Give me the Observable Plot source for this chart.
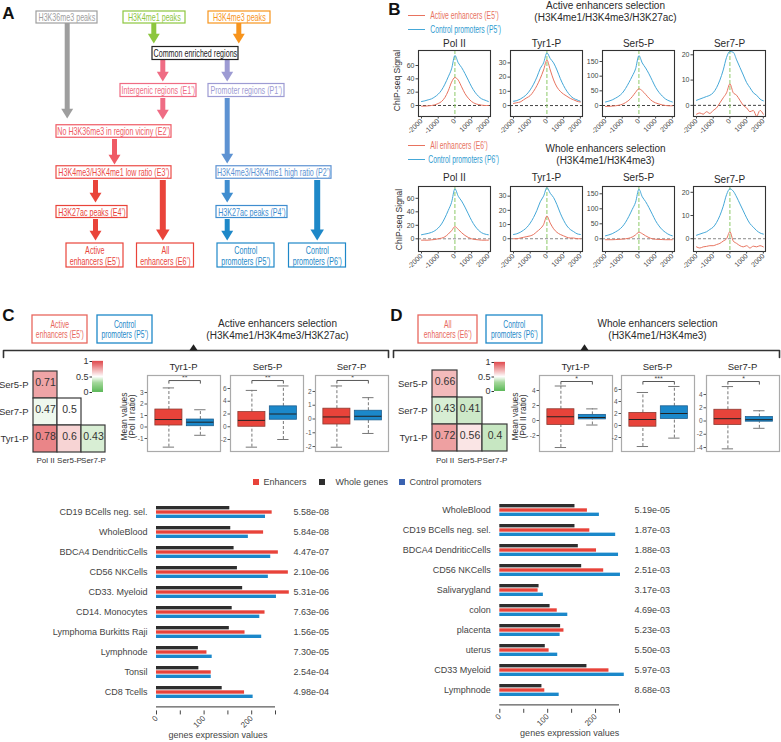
<!DOCTYPE html>
<html>
<head>
<meta charset="utf-8">
<script src="https://cdn.jsdelivr.net/npm/d3@7"></script>
<script src="https://cdn.jsdelivr.net/npm/@observablehq/plot@0.6"></script>
<style>
html,body{margin:0;padding:0;background:#fff;}
#fig{position:relative;width:781px;height:742px;overflow:hidden;background:#fff;}
</style>
</head>
<body>
<div id="fig"></div>
<script>
// ===================== DATA =====================
// --- B: ChIP-seq profiles (position relative to region centre, bp) ---
const profileX = [-2000,-1800,-1600,-1400,-1200,-1000,-800,-600,-400,-200,0,200,400,600,800,1000,1200,1400,1600,1800,2000];
const profileXTicks = [-2000,-1000,0,1000,2000];
const profileTitles = ["Pol II","Tyr1-P","Ser5-P","Ser7-P"];
const polIIYTicks = [0,20,40,60];
const tyr1YTicks = [0,10,20,30];
const ser5YTicks = [0,50,100,150];
const ser7YTicks = [0,10,20];
// Active enhancers selection: E5' (red) vs P5' (blue)
const polII_E5 = [-1,-1,-0.5,0,1,3,6,12,22,35,42,38,28,18,11,6,3,1.5,0.5,0,0];
const polII_P5 = [6,7,8.5,10,13,17,23,32,43,55,75,64,57,48,38,28,20,14,10,8,6];
const tyr1_E5 = [1.5,2,2.5,4,5.5,7,10,14,19,25,32,25,18,13,10,8,6.5,5,4,3,2.5];
const tyr1_P5 = [3,3.5,4.5,6,8,11,15,20,26,30,37,33,30,25,19,14,10,7,5,4,3];
const ser5_E5 = [-3,-3,-2,-1,1,4,10,18,30,45,57,50,38,25,15,9,5,2,0,-1,-1];
const ser5_P5 = [12,15,19,25,32,42,58,78,100,125,170,145,128,108,85,62,45,32,22,16,12];
const ser7_E5 = [-3.5,-3,-3.5,-2.5,-3.2,-2,-1,1,3,5,8.5,5,4,2,0,-1,-2.5,-2,-4.3,-2,-3.5];
const ser7_P5 = [2,2.5,3,3.5,4,5,7,10,14,19,21.3,21,18,15,12,9,7,5,4,2.5,1.8];
// Whole enhancers selection: E6' (red) vs P6' (blue)
const polII_E6 = [-2,-2,-2,-1.5,-1,0,1,3,7,12,18,14,9,5,2,0,-1,-1.5,-2,-2,-2];
const polII_P6 = [6,7,8,9.5,12,16,22,31,42,54,74,63,56,47,37,27,19,13,9,7,6];
const tyr1_E6 = [0,0,0.5,1,1.5,2,3,5,7,10,16,11,7,4.5,3,2,1,0.5,0.5,0,0];
const tyr1_P6 = [3,3.5,4.5,6,8,11,15,20,26,30,36,32,29,24,18,13,9,6.5,5,3.5,3];
const ser5_E6 = [-3,-3,-3,-2.5,-2,-1,0,2,6,13,22,17,10,4,0,-1.5,-2,-2.5,-3,-3,-3];
const ser5_P6 = [10,13,17,23,30,40,55,75,98,122,165,140,124,104,82,60,43,30,21,14,10];
const ser7_E6 = [-3.5,-4,-3.5,-3.3,-3,-3,-2.5,-2,-1,0,3,-1,-2,-3,-3.5,-3,-4,-3.2,-3.5,-3,-3.5];
const ser7_P6 = [1.5,2,2.5,3,4,5,7,10,14,19,21.5,20.5,18,15,12,9,6.5,5,3.5,2.5,2];

// --- titles / legends ---
const activeSelTitle = ["Active enhancers selection","(H3K4me1/H3K4me3/H3K27ac)"];
const wholeSelTitle = ["Whole enhancers selection","(H3K4me1/H3K4me3)"];
const legendActive = ["Active enhancers (E5’)","Control promoters (P5’)"];
const legendWhole = ["All enhancers (E6’)","Control promoters (P6’)"];
const boxLegendActive = ["Active\nenhancers (E5’)","Control\npromoters (P5’)"];
const boxLegendWhole = ["All\nenhancers (E6’)","Control\npromoters (P6’)"];
const chipLabel = "ChIP-seq Signal";
const meanLabel = "Mean values\n(Pol II ratio)";

// --- A: flowchart labels ---
const flowLabels = ["H3K36me3 peaks","H3K4me1 peaks","H3K4me3 peaks","Common enriched regions",
  "Intergenic regions (E1’)","Promoter regions (P1’)","No H3K36me3 in region viciny (E2’)",
  "H3K4me3/H3K4me1 low ratio (E3’)","H3K4me3/H3K4me1 high ratio (P2’)","H3K27ac peaks (E4’)",
  "H3K27ac peaks (P4’)","Active\nenhancers (E5’)","All\nenhancers (E6’)","Control\npromoters (P5’)","Control\npromoters (P6’)"];

// --- C/D: correlation heat maps ---
const hmRows = ["Ser5-P","Ser7-P","Tyr1-P"];
const hmCols = ["Pol II","Ser5-P","Ser7-P"];
const hmPairs = [["Ser5-P","Pol II"],["Ser7-P","Pol II"],["Ser7-P","Ser5-P"],["Tyr1-P","Pol II"],["Tyr1-P","Ser5-P"],["Tyr1-P","Ser7-P"]];
const corrActive = [0.71,0.47,0.5,0.78,0.6,0.43];
const corrWhole = [0.66,0.43,0.41,0.72,0.56,0.4];
const corrLegendTicks = [0,0.5,1];

// --- C/D: box plots [lower whisker, Q1, median, Q3, upper whisker] ---
const boxTitles = ["Tyr1-P","Ser5-P","Ser7-P"];
const boxActiveEnh = [[-1.75,0.13,0.65,1.52,3.4],[-3.2,0,1,2.3,5.7],[-2.05,-0.4,0.15,0.75,2.4]];
const boxActiveProm = [[-0.72,0.07,0.42,0.65,1.5],[-2,1.1,2,3.2,6.4],[-1.05,-0.1,0.2,0.6,1.55]];
const boxActiveSig = ["**","**","*"];
const boxActiveSigY = [4.04,7.25,2.8];
const boxWholeEnh = [[-3.6,-0.6,0.5,1.5,4.6],[-3.5,-0.2,1,2.1,5.5],[-4.2,-0.6,0.35,1.7,5.2]];
const boxWholeProm = [[-0.6,0.15,0.4,0.75,1.55],[-2.1,1.1,2,3.2,6.5],[-1.1,-0.1,0.2,0.6,1.55]];
const boxWholeSig = ["*","***","*"];
const boxWholeSigY = [5.2,7.33,5.96];
const boxTicksActive = [[-1,0,1,2,3],[-2,0,2,4,6],[-2,-1,0,1,2]];
const boxTicksWhole = [[-2,0,2,4],[-2,0,2,4,6],[-4,-2,0,2,4]];

// --- C/D: expression bar charts ---
const barSeries = ["Enhancers","Whole genes","Control promoters"];
const barXTicks = [0,50,100,150,200,250];
const barXLabel = "genes expression values";
const tissuesActive = ["CD19 BCells neg. sel.","WholeBlood","BDCA4 DendriticCells","CD56 NKCells","CD33. Myeloid","CD14. Monocytes","Lymphoma Burkitts Raji","Lymphnode","Tonsil","CD8 Tcells"];
const pActive = ["5.58e-08","5.84e-08","4.47e-07","2.10e-06","5.31e-06","7.63e-06","1.56e-05","7.30e-05","2.54e-04","4.98e-04"];
const enhActive = [243,225,256,277,279,228,186,106,115,185];
const wholeActive = [154,156,163,170,181,159,153,88,89,138];
const promActive = [229,193,240,235,252,217,221,117,115,203];
const tissuesWhole = ["WholeBlood","CD19 BCells neg. sel.","BDCA4 DendriticCells","CD56 NKCells","Salivarygland","colon","placenta","uterus","CD33 Myeloid","Lymphnode"];
const pWhole = ["5.19e-05","1.87e-03","1.88e-03","2.51e-03","3.17e-03","4.69e-03","5.23e-03","5.50e-03","5.97e-03","8.68e-03"];
const enhWhole = [183,188,202,217,80,120,134,103,228,94];
const wholeWhole = [157,157,164,171,82,105,127,95,182,88];
const promWhole = [208,242,248,252,91,142,126,121,260,124];

// ===================== STYLE / LAYOUT =====================
const FONT = '"Liberation Sans", Arial, Helvetica, sans-serif';
const GRAY="#9e9e9e", GREEN="#8dc63f", ORANGE="#f7941d", PINK="#ef6c84", PURPLE="#9d9bd3",
      E2C="#ef5a64", E3C="#ec4b47", RED="#e9443a", P2C="#5d92d2", P4C="#3f8dcf", BLUE="#1e88c8";
const LINE_RED="#e8735f", LINE_BLUE="#45a8d8";
const BAR_RED="#e8433a", BAR_BLACK="#2e2e2e", BAR_BLUE="#1b88ca";
const corrDomain=[0,0.3,0.5,1], corrRange=["#3aa935","#8fcf84","#ffffff","#d9262a"];

const fig = document.getElementById("fig");
function place(svg, left, top, extra) {
  svg.style.position = "absolute";
  svg.style.left = left + "px";
  svg.style.top = top + "px";
  if (extra) Object.assign(svg.style, extra);
  fig.appendChild(svg);
}
function st(size, color) {
  return {background:"transparent", overflow:"visible", maxWidth:"none", fontFamily:FONT, fontSize:size+"px", color:color||"#333"};
}
const triDown = {draw(ctx, size){const s=Math.sqrt(size/Math.PI);ctx.moveTo(-1.3*s,-0.9*s);ctx.lineTo(1.3*s,-0.9*s);ctx.lineTo(0,1.2*s);ctx.closePath();}};
const triUp = {draw(ctx, size){const s=Math.sqrt(size/Math.PI);ctx.moveTo(-s,0);ctx.lineTo(s,0);ctx.lineTo(0,-1.5*s);ctx.closePath();}};

// flowchart layout: centre x, centre y, width, height, colour
const flowBoxes = [
  [66.5,17,61,12,GRAY],[154,17,62,12,GREEN],[239,17,62,12,ORANGE],[195,53,86,13,"#222"],
  [158,90,76,13,PINK],[246,90,76,13,PURPLE],[113.5,131,115,12.5,E2C],[113.5,172,115,12.5,E3C],
  [273.5,172,115,12.5,P2C],[91.5,211.5,71,12,RED],[251.5,211.5,71,12,P4C],
  [94.5,255,57,24,RED],[165,255,57,24,RED],[245.5,255,57,24,BLUE],[317,255,57,24,BLUE]];
const flow = flowLabels.map((t,i)=>({t, cx:flowBoxes[i][0], cy:flowBoxes[i][1], w:flowBoxes[i][2], h:flowBoxes[i][3], c:flowBoxes[i][4]}));
// arrows: x, start y, tip y, colour, big
const arrows = [
  [66.7,23,118,GRAY,0],[153.3,23,43,GREEN,0],[238.3,23,43,ORANGE,0],
  [162.3,60,81,PINK,0],[226.7,60,81,PURPLE,0],[162.3,98,119,PINK,0],
  [226.7,98,163,P2C,0],[114,139,164,E2C,0],
  [95,180,202,RED,0],[162.3,180,240,RED,1],[226.7,180,202,P4C,0],[316.7,180,240,BLUE,1],
  [95,219,240,RED,0],[226.7,219,240,BLUE,0]].map(([x,y1,y2,c,big])=>({x,y1,y2,c,big}));

// ===================== BACKGROUND DECOR LAYER =====================
{
  const rA = 4.6, rB = 5.2;
  const letters = [{t:"A",x:8,y:13},{t:"B",x:394,y:9},{t:"C",x:8,y:315},{t:"D",x:396,y:315}];
  const colCenters = [454,546,638,729];
  const texts = [
    {t:activeSelTitle[0],x:605,y:5,s:10},{t:activeSelTitle[1],x:605,y:17,s:10},
    {t:wholeSelTitle[0],x:605,y:148,s:10},{t:wholeSelTitle[1],x:605,y:160,s:10},
    ...profileTitles.map((t,i)=>({t,x:colCenters[i],y:43,s:10})),
    ...profileTitles.map((t,i)=>({t,x:colCenters[i],y:i===3?179:177,s:10})),
    {t:activeSelTitle[0],x:277,y:323,s:10},{t:activeSelTitle[1],x:277,y:335,s:10},
    {t:wholeSelTitle[0],x:657,y:323,s:10},{t:wholeSelTitle[1],x:657,y:335,s:10},
    ...boxTitles.map((t,i)=>({t,x:[183,267,351][i],y:366,s:9.5})),
    ...boxTitles.map((t,i)=>({t,x:[575,657,742][i],y:366,s:9.5}))
  ];
  const rotTexts = [
    {t:chipLabel,x:397,y:80,s:8},{t:chipLabel,x:399,y:219,s:8},
    {t:meanLabel,x:128,y:416,s:8.5},{t:meanLabel,x:519,y:416,s:8.5}
  ];
  const legLines = [
    {y:15,x1:408,x2:425,c:LINE_RED},{y:29,x1:408,x2:425,c:LINE_BLUE},
    {y:145,x1:408,x2:425,c:LINE_RED},{y:159,x1:408,x2:425,c:LINE_BLUE}];
  const legBoxes = [
    {x1:32,x2:87,y1:315,y2:343,c:"#e8675e"},{x1:97,x2:152,y1:315,y2:343,c:BLUE},
    {x1:418,x2:477,y1:315,y2:343,c:"#e8675e"},{x1:486,x2:542,y1:315,y2:343,c:BLUE}];
  const brackets = [
    {z:"C",x:3,y:357},{z:"C",x:3,y:350},{z:"C",x:388,y:350},{z:"C",x:388,y:357},
    {z:"D",x:393,y:357},{z:"D",x:393,y:350},{z:"D",x:779,y:350},{z:"D",x:779,y:357}];
  const bracketTips = [{x:193,y:350},{x:584,y:350}];
  const barLegSq = [
    {x1:253,x2:259,y1:479,y2:485,c:BAR_RED},{x1:319,x2:325,y1:479,y2:485,c:BAR_BLACK},{x1:399,x2:405,y1:479,y2:485,c:"#3a62b0"}];
  const barLegText = barSeries.map((t,i)=>({t,x:[263,335,409][i],y:482}));

  const marks = [];
  for (const big of [0,1]) {
    const r = big ? rB : rA;
    const a = arrows.filter(d=>d.big===big);
    marks.push(Plot.ruleX(a, {x:"x", y1:"y1", y2:d=>d.y2-2.0*r+1, stroke:"c", strokeWidth: big?6:5}));
    marks.push(Plot.dot(a, {x:"x", y:d=>d.y2-1.2*r, symbol:triDown, r, fill:"c", stroke:null}));
  }
  marks.push(
    Plot.rect(flow, {x1:d=>d.cx-d.w/2, x2:d=>d.cx+d.w/2, y1:d=>d.cy-d.h/2, y2:d=>d.cy+d.h/2, fill:"white", stroke:"c", strokeWidth:1.2}),
    Plot.rect(legBoxes, {x1:"x1",x2:"x2",y1:"y1",y2:"y2",fill:"white",stroke:"c",strokeWidth:1.3}),
    Plot.ruleY(legLines, {y:"y", x1:"x1", x2:"x2", stroke:"c", strokeWidth:1}),
    Plot.line(brackets, {x:"x", y:"y", z:"z", stroke:"#333", strokeWidth:1.6}),
    Plot.dot(bracketTips, {x:"x", y:"y", symbol:triUp, r:4.2, fill:"#222", stroke:null}),
    Plot.rect(barLegSq, {x1:"x1",x2:"x2",y1:"y1",y2:"y2",fill:"c"}),
    Plot.text(barLegText, {x:"x", y:"y", text:"t", textAnchor:"start", fontSize:9, fill:"#444"}),
    Plot.text(letters, {x:"x", y:"y", text:"t", fontSize:17, fontWeight:"bold", fill:"#111"}),
    Plot.text(texts, {x:"x", y:"y", text:"t", fontSize:d=>d.s, fill:"#2a2a2a"}),
    Plot.text(rotTexts, {x:"x", y:"y", text:"t", fontSize:8.5, rotate:-90, lineHeight:0.95, fill:"#333"})
  );
  const svg = Plot.plot({
    width:781, height:742, margin:0,
    x:{domain:[0,781], range:[0,781], axis:null},
    y:{domain:[0,742], range:[0,742], axis:null},
    style: st(10),
    marks
  });
  place(svg, 0, 0);
}

// ===================== B: PROFILE PLOTS =====================
const profileCols = [418,510,602,693];
const profileRows = [
  {top:50, h:66, zero:"#444", doms:[[-16.5,82.5],[-7.7,38.7],[-37.5,187.5],[-4.4,21.7]],
   series:[[polII_E5,polII_P5],[tyr1_E5,tyr1_P5],[ser5_E5,ser5_P5],[ser7_E5,ser7_P5]]},
  {top:186, h:65, zero:"#8a8a8a", doms:[[-18.8,77.5],[-9,36.8],[-42.3,174.3],[-5.5,22.5]],
   series:[[polII_E6,polII_P6],[tyr1_E6,tyr1_P6],[ser5_E6,ser5_P6],[ser7_E6,ser7_P6]]}
];
const profileYTicks = [polIIYTicks,tyr1YTicks,ser5YTicks,ser7YTicks];
for (const row of profileRows) {
  row.series.forEach(([enh, prom], j) => {
    const ml=24, mr=4, mt=2, mb=26, w=72;
    const rows = profileX.map((x,i)=>({x, e:enh[i], p:prom[i]}));
    const svg = Plot.plot({
      width:w+ml+mr, height:row.h+mt+mb, marginLeft:ml, marginRight:mr, marginTop:mt, marginBottom:mb,
      x:{domain:[-2180,2130]}, y:{domain:row.doms[j]},
      style: st(7, "#444"),
      marks:[
        Plot.ruleY([0], {stroke:row.zero, strokeDasharray:"3,2", strokeWidth:1}),
        Plot.ruleX([0], {stroke:"#8dc968", strokeDasharray:"4,2", strokeWidth:1}),
        Plot.line(rows, {x:"x", y:"p", stroke:LINE_BLUE, strokeWidth:1, curve:"monotone-x"}),
        Plot.line(rows, {x:"x", y:"e", stroke:LINE_RED, strokeWidth:1, curve:"monotone-x"}),
        Plot.frame({stroke:"#333", strokeWidth:1.1}),
        Plot.axisY({ticks:profileYTicks[j], tickFormat:d=>String(d), tickSize:2.5, tickPadding:1.5, label:null}),
        Plot.axisX({ticks:profileXTicks, tickFormat:d=>String(d), tickSize:2.5, tickPadding:1, tickRotate:-45, label:null})
      ]
    });
    place(svg, profileCols[j]-ml, row.top-mt);
  });
}

// ===================== C/D: HEAT MAPS =====================
function heatmap(left, top, w, h, vals) {
  const ml=32, mr=9, mt=10, mb=18;
  const cells = hmPairs.map(([r,c],i)=>({r, c, v:vals[i]}));
  const svg = Plot.plot({
    width:ml+w+mr, height:mt+h+mb, marginLeft:ml, marginRight:mr, marginTop:mt, marginBottom:mb,
    x:{domain:hmCols, padding:0}, y:{domain:hmRows, padding:0},
    color:{type:"linear", domain:corrDomain, range:corrRange},
    style: st(9.5, "#333"),
    marks:[
      Plot.cell(cells, {x:"c", y:"r", fill:"v", stroke:"#3a3a3a", strokeWidth:1.2, inset:0}),
      Plot.text(cells, {x:"c", y:"r", text:d=>String(d.v), fontSize:10.5, dy:-2, fill:"#333"}),
      Plot.axisX({tickSize:0, tickPadding:5, label:null, fontSize:8}),
      Plot.axisY({tickSize:0, tickPadding:4, label:null})
    ]
  });
  place(svg, left-ml, top-mt);
}
heatmap(32, 370, 74, 82, corrActive);
heatmap(431, 369, 77, 83, corrWhole);

function corrBar(left, top, h) {
  const ml=20, mr=2, mt=4, mb=4, n=60;
  const steps = d3.range(n);
  const svg = Plot.plot({
    width:ml+11+mr, height:mt+h+mb, marginLeft:ml, marginRight:mr, marginTop:mt, marginBottom:mb,
    x:{domain:[0,1], axis:null}, y:{domain:[0,1]},
    color:{type:"linear", domain:corrDomain, range:corrRange},
    style: st(9, "#333"),
    marks:[
      Plot.rect(steps, {x1:0, x2:1, y1:i=>i/n, y2:i=>(i+1)/n+0.004, fill:i=>(i+0.5)/n}),
      Plot.axisY({ticks:corrLegendTicks, tickFormat:d=>String(d), tickSize:2.5, tickPadding:1.5, label:null})
    ]
  });
  place(svg, left-ml, top-mt);
}
corrBar(92, 361, 31);
corrBar(494, 362, 29);

// ===================== C/D: BOX PLOTS =====================
function boxplot(left, top, ydom, yticks, enh, prom, sig, sigY) {
  const ml=16, mr=2, mt=1, mb=2, w=73, h=76;
  const boxes = [{pos:1, s:enh, fill:BAR_RED, stroke:"#8e3a31"},{pos:2, s:prom, fill:BAR_BLUE, stroke:"#1d5f8f"}];
  const tk = (ydom[1]-ydom[0])*0.035;
  const br = [{x:1,y:sigY-tk},{x:1,y:sigY},{x:2,y:sigY},{x:2,y:sigY-tk}];
  const svg = Plot.plot({
    width:ml+w+mr, height:mt+h+mb, marginLeft:ml, marginRight:mr, marginTop:mt, marginBottom:mb,
    x:{domain:[0.32,2.64], axis:null}, y:{domain:ydom},
    style: st(6.5, "#555"),
    marks:[
      Plot.ruleX(boxes, {x:"pos", y1:d=>d.s[0], y2:d=>d.s[1], stroke:"#777", strokeDasharray:"3,2"}),
      Plot.ruleX(boxes, {x:"pos", y1:d=>d.s[3], y2:d=>d.s[4], stroke:"#777", strokeDasharray:"3,2"}),
      Plot.ruleY(boxes, {y:d=>d.s[0], x1:d=>d.pos-0.18, x2:d=>d.pos+0.18, stroke:"#777"}),
      Plot.ruleY(boxes, {y:d=>d.s[4], x1:d=>d.pos-0.18, x2:d=>d.pos+0.18, stroke:"#777"}),
      Plot.rect(boxes, {x1:d=>d.pos-0.43, x2:d=>d.pos+0.43, y1:d=>d.s[1], y2:d=>d.s[3], fill:"fill", stroke:"stroke", strokeWidth:0.8}),
      Plot.ruleY(boxes, {y:d=>d.s[2], x1:d=>d.pos-0.43, x2:d=>d.pos+0.43, stroke:"#222", strokeWidth:1}),
      Plot.line(br, {x:"x", y:"y", stroke:"#444", strokeWidth:0.9}),
      Plot.text([{t:sig}], {x:()=>1.5, y:()=>sigY, text:"t", dy:-3, fontSize:7, fill:"#444"}),
      Plot.frame({stroke:"#aaa", strokeWidth:1.2}),
      Plot.axisY({ticks:yticks, tickFormat:d=>String(d), tickSize:2.5, tickPadding:1.5, label:null})
    ]
  });
  place(svg, left-ml, top-mt);
}
const boxColsC = [147,230,315], boxColsD = [539,621,706];
const boxDomC = [[-2.13,4.48],[-3.88,8.04],[-2.36,3.16]];
const boxDomD = [[-4.13,6],[-4.33,8.33],[-4.6,6.87]];
for (let i=0;i<3;i++) {
  boxplot(boxColsC[i], 375, boxDomC[i], boxTicksActive[i], boxActiveEnh[i], boxActiveProm[i], boxActiveSig[i], boxActiveSigY[i]);
  boxplot(boxColsD[i], 375, boxDomD[i], boxTicksWhole[i], boxWholeEnh[i], boxWholeProm[i], boxWholeSig[i], boxWholeSigY[i]);
}

// ===================== C/D: BAR CHARTS =====================
function barChart(left, width, ml, mr, mt, tissues, pvals, enh, whole, prom, pPad, labelDx) {
  const H = 282, n = tissues.length, pad = 0.38, step = 20.86, R = step*(n+pad);
  const mb = H - mt - R, bw = step*(1-pad), third = bw/3;
  const rows = tissues.map((t,i)=>({t, e:enh[i], w:whole[i], p:prom[i]}));
  const svg = Plot.plot({
    width, height:H, marginLeft:ml, marginRight:mr, marginTop:mt, marginBottom:mb,
    x:{domain:[0,250]}, y:{domain:tissues, padding:pad},
    style: st(9, "#444"),
    marks:[
      Plot.barX(rows, {x:"w", y:"t", fill:BAR_BLACK, insetTop:0, insetBottom:2*third}),
      Plot.barX(rows, {x:"e", y:"t", fill:BAR_RED, insetTop:third, insetBottom:third}),
      Plot.barX(rows, {x:"p", y:"t", fill:BAR_BLUE, insetTop:2*third, insetBottom:0}),
      Plot.ruleY([tissues[n-1]], {x1:0, x2:250, dy:bw/2+pad*step, stroke:"#333", strokeWidth:1}),
      Plot.axisX({ticks:barXTicks, tickFormat:d=>d%100===0?String(d):"", tickSize:4, tickPadding:2, tickRotate:-45, label:null, fontSize:8}),
      Plot.axisY({anchor:"left", tickSize:0, tickPadding:9, label:null}),
      Plot.axisY({anchor:"right", tickSize:0, tickPadding:pPad, label:null, tickFormat:d=>pvals[tissues.indexOf(d)]}),
      Plot.text([barXLabel], {frameAnchor:"bottom", dy:27, dx:labelDx, fontSize:9, fill:"#444"})
    ]
  });
  place(svg, left, 460);
}
barChart(0, 390, 156, 115, 33.9, tissuesActive, pActive, enhActive, wholeActive, promActive, 18, 2);
barChart(390, 391, 109.3, 162, 32.3, tissuesWhole, pWhole, enhWhole, wholeWhole, promWhole, 15, 10);

// ===================== CONDENSED TEXT LAYER (flowchart, legends) =====================
{
  const K = 0.68;
  const condTexts = [
    ...flow.map(d=>({t:d.t, x:d.cx, y:d.cy, c:d.c, s:10.5, a:"middle"})),
    {t:legendActive[0], x:430, y:15, c:LINE_RED, s:10, a:"start"},
    {t:legendActive[1], x:430, y:29, c:"#2f9bd0", s:10, a:"start"},
    {t:legendWhole[0], x:430, y:145, c:LINE_RED, s:10, a:"start"},
    {t:legendWhole[1], x:428, y:159, c:"#2f9bd0", s:10, a:"start"},
    {t:boxLegendActive[0], x:59.5, y:329, c:"#e8675e", s:10, a:"middle"},
    {t:boxLegendActive[1], x:124.5, y:329, c:BLUE, s:10, a:"middle"},
    {t:boxLegendWhole[0], x:447.5, y:329, c:"#e8675e", s:10, a:"middle"},
    {t:boxLegendWhole[1], x:514, y:329, c:BLUE, s:10, a:"middle"}
  ];
  const marks = ["middle","start"].map(a => Plot.text(condTexts.filter(d=>d.a===a),
    {x:"x", y:"y", text:"t", fill:"c", fontSize:d=>d.s, textAnchor:a, lineHeight:1.05}));
  const svg = Plot.plot({
    width:781/K, height:742, margin:0,
    x:{domain:[0,781], range:[0,781/K], axis:null},
    y:{domain:[0,742], range:[0,742], axis:null},
    style: st(10),
    marks
  });
  place(svg, 0, 0, {transform:`scaleX(${K})`, transformOrigin:"0 0"});
}
</script>
</body>
</html>
